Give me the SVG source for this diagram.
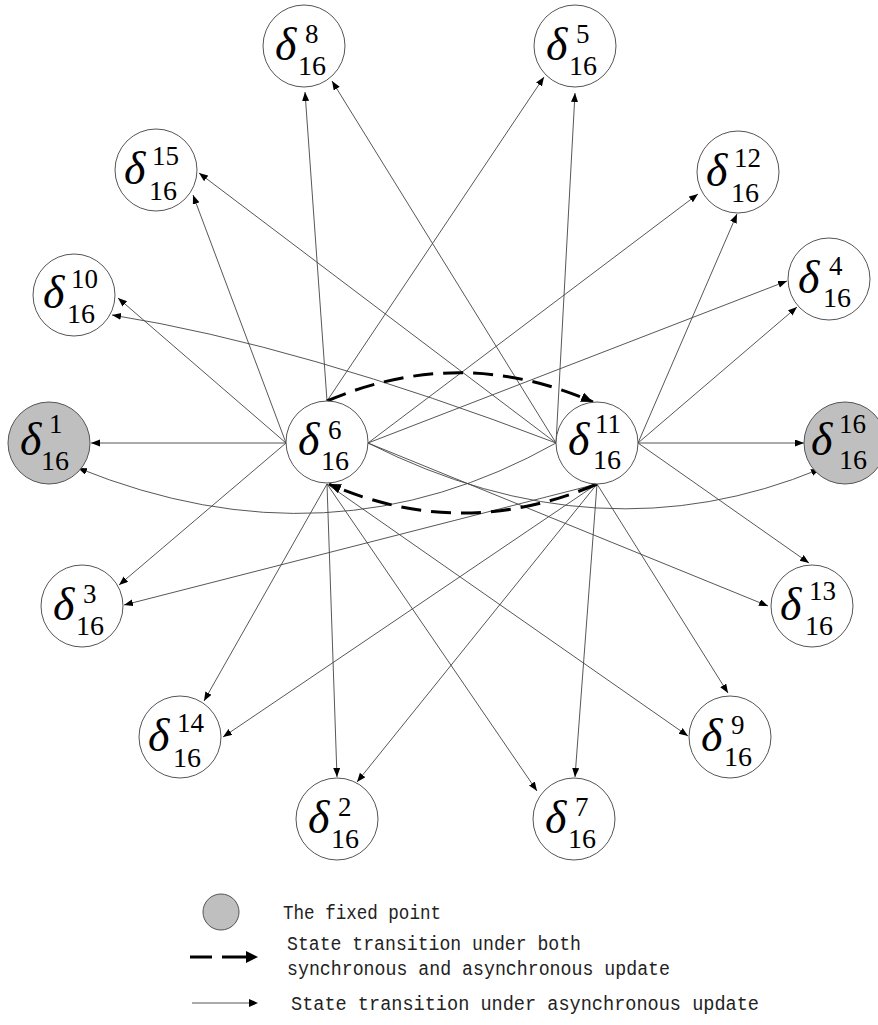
<svg xmlns="http://www.w3.org/2000/svg" width="878" height="1025" viewBox="0 0 878 1025">
<style>
.node{fill:#fff;stroke:#555;stroke-width:1}
.fixed{fill:#bfbfbf;stroke:#555;stroke-width:1}
.d{font-family:"Liberation Serif","DejaVu Serif","Times New Roman",serif;font-style:italic;font-size:46px;fill:#000}
.sup,.sub{font-family:"Liberation Serif","DejaVu Serif","Times New Roman",serif;font-size:27px;fill:#000}
.sub{font-size:28px}
.e{fill:none;stroke:#444;stroke-width:0.9;marker-end:url(#ah)}
.dash{fill:none;stroke:#000;stroke-width:3;stroke-dasharray:20 10;marker-end:url(#ahb)}
.leg{font-family:"Liberation Mono","Courier New",monospace;font-size:20px;fill:#222}
</style>
<defs>
<marker id="ah" markerUnits="userSpaceOnUse" markerWidth="10" markerHeight="8" refX="9" refY="3.5" orient="auto">
<path d="M0,0 L9,3.5 L0,7 z" fill="#000"/>
</marker>
<marker id="ahb" markerUnits="userSpaceOnUse" markerWidth="14" markerHeight="12" refX="12" refY="5" orient="auto">
<path d="M0,0 L12,5 L0,10 z" fill="#000"/>
</marker>
</defs>
<rect width="878" height="1025" fill="#fff"/>
<g id="connectors">
<line class="e" x1="286" y1="443" x2="91" y2="443"/>
<line class="e" x1="286" y1="443" x2="118" y2="298"/>
<line class="e" x1="286" y1="443" x2="193" y2="195"/>
<line class="e" x1="286" y1="443" x2="119" y2="585"/>
<line class="e" x1="327" y1="401" x2="305" y2="92"/>
<line class="e" x1="327" y1="401" x2="544" y2="77"/>
<line class="e" x1="368" y1="443" x2="698" y2="194"/>
<line class="e" x1="368" y1="443" x2="787" y2="281"/>
<line class="e" x1="368" y1="443" x2="768" y2="606"/>
<path class="e" d="M368,443 Q600,560 820,469"/>
<line class="e" x1="327" y1="484" x2="204" y2="701"/>
<line class="e" x1="327" y1="484" x2="337" y2="777"/>
<line class="e" x1="327" y1="484" x2="537" y2="791"/>
<line class="e" x1="327" y1="484" x2="688" y2="736"/>
<line class="e" x1="556" y1="443" x2="199" y2="173"/>
<line class="e" x1="556" y1="443" x2="332" y2="81"/>
<line class="e" x1="556" y1="443" x2="575" y2="93"/>
<path class="e" d="M556,443 Q300,345 112,315"/>
<path class="e" d="M556,443 Q330,570 78,468"/>
<line class="e" x1="638" y1="443" x2="804" y2="443"/>
<line class="e" x1="638" y1="443" x2="737" y2="214"/>
<line class="e" x1="638" y1="443" x2="797" y2="307"/>
<line class="e" x1="638" y1="443" x2="809" y2="563"/>
<line class="e" x1="597" y1="484" x2="124" y2="605"/>
<line class="e" x1="597" y1="484" x2="223" y2="737"/>
<line class="e" x1="597" y1="484" x2="357" y2="782"/>
<line class="e" x1="597" y1="484" x2="575" y2="777"/>
<line class="e" x1="597" y1="484" x2="728" y2="693"/>
<path class="dash" d="M327,401 Q460,344 593,402"/>
<path class="dash" d="M597,484 Q462,542 329,484"/>
</g>
<g id="n1"><circle class="fixed" cx="49" cy="443" r="41"/><text><tspan class="d" x="20" y="455">δ</tspan><tspan class="sup" x="49" y="433">1</tspan><tspan class="sub" x="41" y="470">16</tspan></text></g>
<g id="n6"><circle class="node" cx="327" cy="442" r="41"/><text><tspan class="d" x="298" y="455">δ</tspan><tspan class="sup" x="328" y="439">6</tspan><tspan class="sub" x="321" y="470">16</tspan></text></g>
<g id="n11"><circle class="node" cx="597" cy="443" r="41"/><text><tspan class="d" x="568" y="455">δ</tspan><tspan class="sup" x="595" y="433">11</tspan><tspan class="sub" x="593" y="469">16</tspan></text></g>
<g id="n16"><circle class="fixed" cx="845" cy="443" r="41"/><text><tspan class="d" x="811" y="455">δ</tspan><tspan class="sup" x="839" y="433">16</tspan><tspan class="sub" x="839" y="469">16</tspan></text></g>
<g id="n8"><circle class="node" cx="304" cy="46" r="41"/><text><tspan class="d" x="275" y="60">δ</tspan><tspan class="sup" x="305" y="43">8</tspan><tspan class="sub" x="298" y="75">16</tspan></text></g>
<g id="n5"><circle class="node" cx="575" cy="46" r="41"/><text><tspan class="d" x="546" y="60">δ</tspan><tspan class="sup" x="576" y="43">5</tspan><tspan class="sub" x="569" y="75">16</tspan></text></g>
<g id="n15"><circle class="node" cx="156" cy="170" r="41"/><text><tspan class="d" x="124" y="184">δ</tspan><tspan class="sup" x="152" y="165">15</tspan><tspan class="sub" x="149" y="200">16</tspan></text></g>
<g id="n12"><circle class="node" cx="738" cy="172" r="41"/><text><tspan class="d" x="706" y="186">δ</tspan><tspan class="sup" x="734" y="167">12</tspan><tspan class="sub" x="731" y="202">16</tspan></text></g>
<g id="n10"><circle class="node" cx="74" cy="295" r="41"/><text><tspan class="d" x="43" y="308">δ</tspan><tspan class="sup" x="71" y="288">10</tspan><tspan class="sub" x="67" y="323">16</tspan></text></g>
<g id="n4"><circle class="node" cx="829" cy="279" r="41"/><text><tspan class="d" x="798" y="293">δ</tspan><tspan class="sup" x="829" y="275">4</tspan><tspan class="sub" x="823" y="307">16</tspan></text></g>
<g id="n3"><circle class="node" cx="82" cy="606" r="41"/><text><tspan class="d" x="53" y="620">δ</tspan><tspan class="sup" x="83" y="603">3</tspan><tspan class="sub" x="76" y="635">16</tspan></text></g>
<g id="n13"><circle class="node" cx="812" cy="606" r="41"/><text><tspan class="d" x="780" y="620">δ</tspan><tspan class="sup" x="809" y="600">13</tspan><tspan class="sub" x="805" y="635">16</tspan></text></g>
<g id="n14"><circle class="node" cx="180" cy="737" r="41"/><text><tspan class="d" x="148" y="751">δ</tspan><tspan class="sup" x="177" y="732">14</tspan><tspan class="sub" x="173" y="767">16</tspan></text></g>
<g id="n9"><circle class="node" cx="730" cy="737" r="41"/><text><tspan class="d" x="701" y="751">δ</tspan><tspan class="sup" x="731" y="734">9</tspan><tspan class="sub" x="724" y="766">16</tspan></text></g>
<g id="n2"><circle class="node" cx="337" cy="819" r="41"/><text><tspan class="d" x="308" y="833">δ</tspan><tspan class="sup" x="338" y="816">2</tspan><tspan class="sub" x="331" y="848">16</tspan></text></g>
<g id="n7"><circle class="node" cx="574" cy="819" r="41"/><text><tspan class="d" x="545" y="833">δ</tspan><tspan class="sup" x="575" y="816">7</tspan><tspan class="sub" x="568" y="848">16</tspan></text></g>
<g id="legend">
<circle class="fixed" cx="221" cy="912" r="18"/>
<text class="leg" x="283" y="919" textLength="158" lengthAdjust="spacingAndGlyphs">The fixed point</text>
<line x1="190" y1="957" x2="212" y2="957" stroke="#000" stroke-width="3"/>
<line x1="222" y1="957" x2="247" y2="957" stroke="#000" stroke-width="3"/>
<path d="M246,951 L258,957 L246,963 z" fill="#000"/>
<text class="leg" x="287" y="950" textLength="294" lengthAdjust="spacingAndGlyphs">State transition under both</text>
<text class="leg" x="287" y="975" textLength="383" lengthAdjust="spacingAndGlyphs">synchronous and asynchronous update</text>
<line x1="192" y1="1003" x2="250" y2="1003" stroke="#444" stroke-width="0.9"/>
<path d="M249,999 L258,1003 L249,1007 z" fill="#000"/>
<text class="leg" x="291" y="1010" textLength="468" lengthAdjust="spacingAndGlyphs">State transition under asynchronous update</text>
</g>
</svg>
